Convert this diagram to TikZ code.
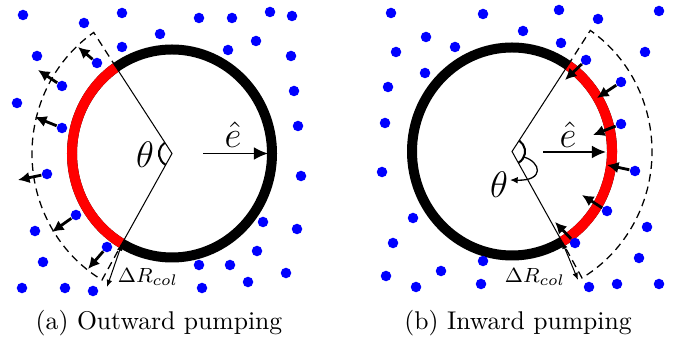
\documentclass[tikz,border=0pt]{standalone}
\usepackage{amsmath,amssymb}
\usepackage{tikz}
\usetikzlibrary{arrows.meta,positioning,calc}

\begin{document}
\begin{tikzpicture}[
  x=0.39pt, y=0.39pt,
  dot/.style={circle, fill=blue, inner sep=0pt, minimum size=4.1pt},
  wall/.style={line width=3.9pt},
  push/.style={-{Latex[length=4.5pt,width=4.5pt]}, line width=1.1pt},
  earr/.style={-{Latex[length=5.5pt,width=5pt]}, line width=0.7pt},
  dim/.style={{Latex[length=2.8pt,width=2.2pt]}-{Latex[length=2.8pt,width=2.2pt]}, line width=0.4pt},
  ang/.style={line width=0.8pt},
  bound/.style={dashed, dash pattern=on 3pt off 2pt, line width=0.5pt}
]
\useasboundingbox (0,0) rectangle (683,-340);

%% (a) outward pumping
\coordinate (cL) at (172,-153.5);
\coordinate (tL) at ([shift={(124:100 and 104)}]cL);
\coordinate (bL) at ([shift={(240:100 and 104)}]cL);
\coordinate (otL) at ([shift={(124:140 and 146)}]cL);
\coordinate (obL) at ([shift={(240:140 and 146)}]cL);
\draw[wall] (cL) ellipse [x radius=100, y radius=104];
\draw[wall, red] (tL) arc[start angle=124, end angle=240, x radius=100, y radius=104];
\draw[bound] (tL) -- (otL)
  arc[start angle=124, end angle=240, x radius=140, y radius=146] -- (bL);
\draw[line width=0.4pt] (tL) -- (cL) -- (bL);
\draw[ang] ([shift={(124:13)}]cL) arc[start angle=124, end angle=240, radius=13];
\node (thL) at (145,-155) {\Large$\theta$};
\coordinate (eL0) at (203,-153.5);
\coordinate (eL1) at (268,-153.5);
\draw[earr] (eL0) -- (eL1);
\node (eL) at (233,-135) {\Large$\hat{e}$};
\coordinate (dL) at (107,-287);
\draw[dim] (bL) -- (dL);
\node (drL) at (148,-277) {\footnotesize$\Delta R_{col}$};

\foreach \x/\y in {23/15, 84/23, 122/13, 160/34, 122/47, 199/18, 232/18,
  270/12, 292/16, 256/41, 228/50, 291/56, 37/56, 17/103, 294/91, 298/126,
  301/176, 263/222, 297/229, 35/231, 257/251, 43/262, 199/265, 230/265,
  286/273, 248/282, 22/288, 65/288, 93/291, 202/288}
  \node[dot] at (\x,-\y) {};
\foreach \x/\y/\u/\v [count=\i] in {97/63/78/47, 62/86/38/70, 62/128/35/117,
  47/174/18/180, 76/215/52/232, 107/247/88/269} {
  \node[dot] (pL\i) at (\x,-\y) {};
  \coordinate (qL\i) at (\u,-\v);
  \draw[push] (pL\i) -- (qL\i);
}
\node (capA) at (159,-323) {(a) Outward pumping};

%% (b) inward pumping
\coordinate (cR) at (512,-151.5);
\coordinate (tR) at ([shift={(56:100 and 104)}]cR);
\coordinate (bR) at ([shift={(-60:100 and 104)}]cR);
\coordinate (otR) at ([shift={(56:140 and 146)}]cR);
\coordinate (obR) at ([shift={(-60:140 and 146)}]cR);
\draw[wall] (cR) ellipse [x radius=100, y radius=104];
\draw[wall, red] (bR) arc[start angle=-60, end angle=56, x radius=100, y radius=104];
\draw[bound] (tR) -- (otR)
  arc[start angle=56, end angle=-60, x radius=140, y radius=146] -- (bR);
\draw[line width=0.4pt] (tR) -- (cR) -- (bR);
\draw[ang] ([shift={(56:13)}]cR) arc[start angle=56, end angle=-60, radius=13];
\coordinate (sR) at ([shift={(-25:13)}]cR);
\coordinate (sR1) at (510,-180);
\draw[-{Latex[length=3pt,width=2.6pt]}, line width=0.5pt]
  (sR) .. controls (541,-162) and (545,-181) .. (sR1);
\node (thR) at (499,-185) {\Large$\theta$};
\coordinate (eR0) at (543,-152);
\coordinate (eR1) at (606,-152);
\draw[earr] (eR0) -- (eR1);
\node (eR) at (568,-135) {\Large$\hat{e}$};
\coordinate (dR) at (578,-280);
\draw[dim] (bR) -- (dR);
\node (drR) at (535,-277) {\footnotesize$\Delta R_{col}$};

\foreach \x/\y in {391/13, 483/14, 559/10, 598/19, 659/11, 523/31, 426/37,
  561/43, 455/47, 396/52, 645/52, 425/73, 388/87, 385/123, 382/172, 413/218,
  647/227, 393/243, 483/261, 639/258, 441/271, 386/276, 416/287, 481/284,
  589/287, 617/284, 659/284}
  \node[dot] at (\x,-\y) {};
\foreach \x/\y/\u/\v [count=\i] in {586/60/565/80, 621/82/597/98,
  621/124/593/135, 635/171/607/165, 607/211/582/195, 575/243/555/222} {
  \node[dot] (pR\i) at (\x,-\y) {};
  \coordinate (qR\i) at (\u,-\v);
  \draw[push] (pR\i) -- (qR\i);
}
\node (capB) at (518,-323) {(b) Inward pumping};
\end{tikzpicture}
\end{document}
